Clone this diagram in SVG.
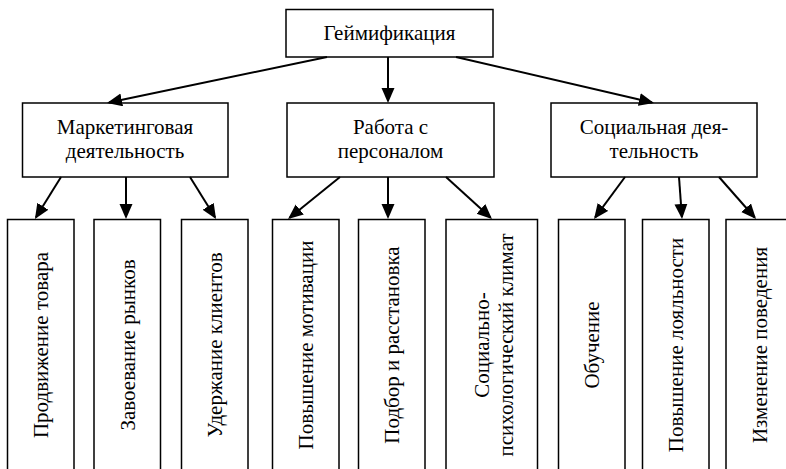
<svg xmlns="http://www.w3.org/2000/svg" width="786" height="469" viewBox="0 0 786 469" font-family="Liberation Serif, Times New Roman, Times, DejaVu Serif, serif">
<style>
.box{fill:#fff;stroke:#000;stroke-width:1.5}
.t{font-size:21px;fill:#000;text-anchor:middle}
.v{dominant-baseline:central}
.c line{stroke:#000;stroke-width:2;marker-end:url(#ah)}
</style>
<defs>
<marker id="ah" markerUnits="userSpaceOnUse" markerWidth="16" markerHeight="14" refX="13" refY="6.5" orient="auto" viewBox="0 0 16 14">
<path d="M0,0 L15,6.5 L0,13 z" fill="#000"/>
</marker>
</defs>
<rect width="786" height="469" fill="#fff"/>
<g id="n0"><rect class="box" x="286" y="9.5" width="207" height="47.5"/><text class="t" font-family="Liberation Serif" x="389.5" y="40">Геймификация</text></g>
<g id="n1"><rect class="box" x="22.5" y="103" width="205.5" height="74"/><text class="t" x="125" y="134">Маркетинговая</text><text class="t" x="125" y="157.5">деятельность</text></g>
<g id="n2"><rect class="box" x="287" y="103" width="207" height="74"/><text class="t" x="390.5" y="134">Работа с</text><text class="t" x="390.5" y="157.5">персоналом</text></g>
<g id="n3"><rect class="box" x="551" y="103" width="206" height="74"/><text class="t" x="654" y="134">Социальная дея-</text><text class="t" x="654" y="157.5">тельность</text></g>
<g id="n4"><rect class="box" x="7.5" y="219.5" width="66.5" height="260"/><text class="t v" transform="translate(41,345) rotate(-90)">Продвижение товара</text></g>
<g id="n5"><rect class="box" x="94" y="219.5" width="66.5" height="260"/><text class="t v" transform="translate(127.5,345) rotate(-90)">Завоевание рынков</text></g>
<g id="n6"><rect class="box" x="181.5" y="219.5" width="66.5" height="260"/><text class="t v" transform="translate(215,345) rotate(-90)">Удержание клиентов</text></g>
<g id="n7"><rect class="box" x="272.5" y="219.5" width="66.5" height="260"/><text class="t v" transform="translate(306,345) rotate(-90)">Повышение мотивации</text></g>
<g id="n8"><rect class="box" x="358.5" y="219.5" width="66.5" height="260"/><text class="t v" transform="translate(392,345) rotate(-90)">Подбор и расстановка</text></g>
<g id="n9"><rect class="box" x="446" y="219.5" width="91.5" height="260"/><text class="t v" transform="translate(481.5,345) rotate(-90)">Социально-</text><text class="t v" transform="translate(506,345) rotate(-90)">психологический климат</text></g>
<g id="n10"><rect class="box" x="558.5" y="219.5" width="66.5" height="260"/><text class="t v" transform="translate(592,345) rotate(-90)">Обучение</text></g>
<g id="n11"><rect class="box" x="642.5" y="219.5" width="66.5" height="260"/><text class="t v" transform="translate(676,345) rotate(-90)">Повышение лояльности</text></g>
<g id="n12"><rect class="box" x="726" y="219.5" width="66.5" height="260"/><text class="t v" transform="translate(760,345) rotate(-90)">Изменение поведения</text></g>
<g id="connectors" class="c">
<line x1="327" y1="57" x2="109" y2="102.6"/>
<line x1="388" y1="57" x2="388" y2="101"/>
<line x1="456" y1="57" x2="652" y2="102.5"/>
<line x1="61" y1="177" x2="36" y2="217.3"/>
<line x1="126" y1="177" x2="126" y2="217"/>
<line x1="190" y1="177" x2="215" y2="217.3"/>
<line x1="340" y1="177" x2="289.6" y2="217.7"/>
<line x1="388" y1="177" x2="388" y2="217"/>
<line x1="446" y1="177" x2="490.5" y2="217.6"/>
<line x1="625" y1="177" x2="595.2" y2="217.4"/>
<line x1="679" y1="177" x2="681.9" y2="217"/>
<line x1="719" y1="177" x2="754.7" y2="217.5"/>
</g>
</svg>
